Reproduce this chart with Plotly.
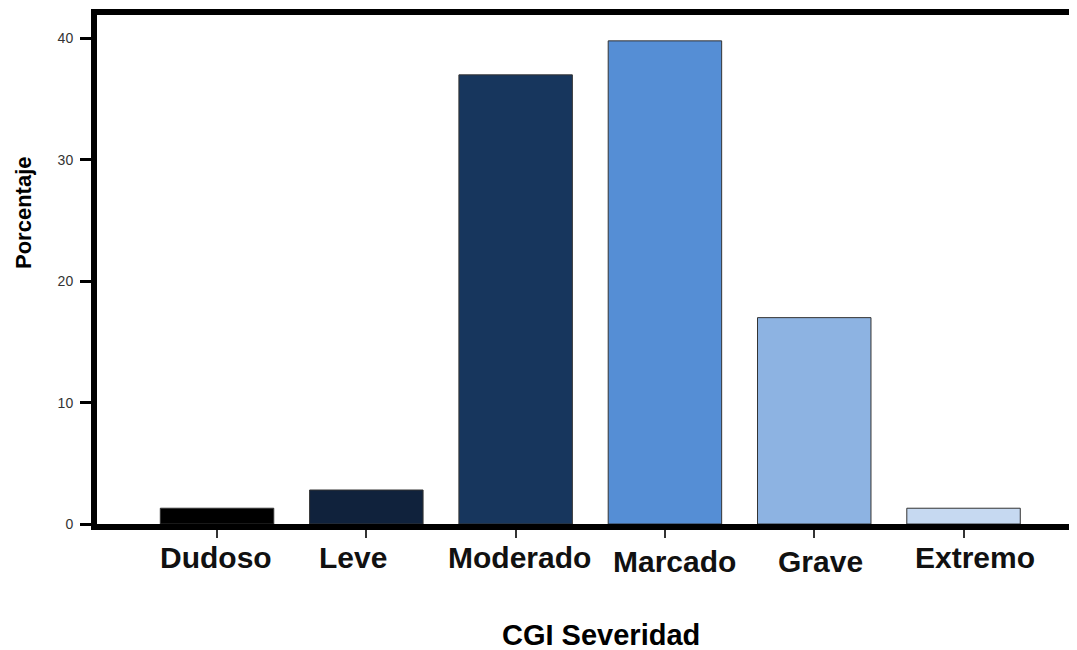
import plotly.graph_objects as go

categories = ["Dudoso", "Leve", "Moderado", "Marcado", "Grave", "Extremo"]
values = [1.3, 2.8, 37.0, 39.8, 17.0, 1.3]
colors = ["#000000", "#10223c", "#17365d", "#558ed5", "#8db3e2", "#c6d9f1"]
y_ticks = [0, 10, 20, 30, 40]

# label placement nudges (pixels) seen in the original
label_dx = [-1, -13, 4, 10, 6, 11]
label_y_page = [557, 557, 557, 561, 561, 557]

# page body has an 8px margin, so the figure is shifted by -8 px
OFF = 8
W, H = 1077 - OFF, 650 - OFF
L, R, T = 97 - OFF, 0, 15 - OFF
BOTTOM = 524 - OFF
B = H - BOTTOM
PH = H - T - B
PW = W - L - R

fig = go.Figure(go.Bar(
    x=list(range(len(categories))),
    y=values,
    marker=dict(color=colors, line=dict(color="#333333", width=1)),
    width=0.76,
))

FONT = "Arial, Liberation Sans, sans-serif"

annotations = []
for i, name in enumerate(categories):
    annotations.append(dict(
        text="<b>%s</b>" % name, xref="x", yref="paper",
        x=i, y=(BOTTOM - (label_y_page[i] - OFF)) / PH,
        xshift=label_dx[i], xanchor="center", yanchor="middle",
        showarrow=False, font=dict(size=30, family=FONT, color="#111111"),
    ))
annotations += [
    dict(text="<b>CGI Severidad</b>", xref="paper", yref="paper",
         x=(601 - OFF - L) / PW, y=-((635 - OFF) - BOTTOM) / PH,
         xanchor="center", yanchor="middle", showarrow=False, borderpad=0,
         font=dict(size=29, family=FONT, color="#000000")),
    dict(text="<b>Porcentaje</b>", xref="paper", yref="paper",
         x=(23 - OFF - L) / PW, y=(BOTTOM - (213 - OFF)) / PH,
         xanchor="center", yanchor="middle", showarrow=False, textangle=-90,
         font=dict(size=22, family=FONT, color="#000000")),
]

fig.update_layout(
    width=W, height=H,
    margin=dict(l=L, r=R, t=T, b=B, pad=0),
    paper_bgcolor="white", plot_bgcolor="white",
    showlegend=False,
    font=dict(family=FONT, color="#000000"),
    xaxis=dict(
        range=[-0.804, 5.76],
        tickmode="array",
        tickvals=list(range(len(categories))),
        showticklabels=False,
        showline=True, linecolor="black", linewidth=6, mirror=True,
        ticks="outside", ticklen=8, tickwidth=2, tickcolor="#333333",
        showgrid=False, zeroline=False,
    ),
    yaxis=dict(
        range=[0, 41.93],
        tickmode="array",
        tickvals=y_ticks,
        ticktext=[str(v) for v in y_ticks],
        tickfont=dict(size=14, family=FONT, color="#333333"),
        showline=True, linecolor="black", linewidth=6, mirror=False,
        ticks="outside", ticklen=11, tickwidth=3, tickcolor="black",
        showgrid=False, zeroline=False,
        ticklabelstandoff=4,
    ),
    annotations=annotations,
)

fig.write_html("out.html")
